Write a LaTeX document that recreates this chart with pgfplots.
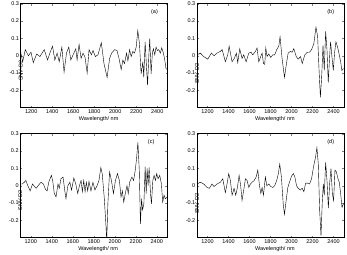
\documentclass[border=0pt]{standalone}
\usepackage{fontspec}
\setmainfont{Liberation Sans}
\usepackage{pgfplots}
\pgfplotsset{compat=1.18}

\newcommand{\sm}{\fontsize{5.5}{6.5}\selectfont}
\pgfplotsset{panel/.style={
  scale only axis, width=147pt, height=104pt, anchor=south west,
  xmin=1100, xmax=2500, ymin=-0.3, ymax=0.3,
  xtick={1200,1400,...,2400},
  ytick={-0.2,-0.1,0,0.1,0.2,0.3},
  yticklabels={-0.2,-0.1,0,0.1,0.2,0.3},
  /pgf/number format/1000 sep={},
  /pgf/number format/assume math mode=true,
  tick align=inside, major tick length=2pt,
  tick label style={font=\sm},
  xticklabel style={inner sep=1pt, yshift=-0.5pt},
  yticklabel style={inner sep=1.5pt},
  label style={font=\sm},
  xlabel={Wavelength/ nm}, ylabel={SNV-D2},
  xlabel style={at={(axis description cs:0.53,0)}, anchor=center, yshift=-11pt},
  axis line style={line width=0.5pt},
  cycle list={{black, line width=1.05pt, no marks, smooth, tension=0.3}},
}}

\begin{document}
\begin{tikzpicture}
\useasboundingbox (0,0) rectangle (347pt,-254pt);

% (a)
\begin{axis}[panel, at={(20.7pt,-107.7pt)},
  ylabel style={at={(axis description cs:0,0.46)}, anchor=center, xshift=-11pt}]
\addplot coordinates {
(1100,0.02)(1119,-0.035)(1144,0.035)(1173,0.0)(1198,0.02)(1220,-0.04)(1252,0.01)
(1283,-0.005)(1324,0.035)(1356,-0.025)(1378,0.015)(1403,0.055)(1425,-0.025)
(1447,0.015)(1467,-0.035)(1492,0.05)(1513,-0.095)(1536,0.015)(1558,0.05)
(1577,-0.025)(1599,0.005)(1625,0.04)(1637,-0.025)(1656,0.065)(1675,-0.015)
(1694,0.015)(1713,-0.01)(1733,-0.1)(1751,0.035)(1773,0.005)(1789,0.03)
(1811,-0.005)(1836,0.005)(1868,0.075)(1893,-0.045)(1923,-0.125)(1947,-0.015)
(1966,0.015)(1995,0.035)(2017,0.03)(2036,-0.015)(2057,-0.08)(2073,-0.025)
(2089,-0.045)(2108,0.015)(2121,-0.03)(2137,0.035)(2152,-0.005)(2168,0.025)
(2184,0.015)(2200,0.05)(2215,0.145)(2231,0.07)(2247,-0.105)(2263,-0.035)
(2272,-0.125)(2285,0.08)(2298,-0.065)(2308,-0.17)(2320,-0.005)(2329,0.1)
(2342,-0.105)(2354,0.015)(2364,0.04)(2377,0.005)(2389,0.05)(2402,0.03)
(2415,0.035)(2430,0.015)(2443,0.045)(2459,0.015)(2472,-0.025)(2484,-0.075)
(2500,-0.08)};
\node[font=\sm] at (rel axis cs:0.91,0.92) {(a)};
\end{axis}

% (b)
\begin{axis}[panel, at={(197pt,-107.7pt)},
  ylabel style={at={(axis description cs:0,0.46)}, anchor=center, xshift=-14pt}]
\addplot coordinates {
(1100,0.005)(1132,0.015)(1164,-0.005)(1202,-0.02)(1237,0.015)(1262,0.0)
(1291,0.015)(1323,0.025)(1339,0.035)(1355,0.0)(1370,-0.035)(1393,0.005)
(1406,0.055)(1434,-0.035)(1456,-0.015)(1475,0.015)(1488,-0.04)(1507,0.04)
(1529,-0.015)(1545,0.005)(1568,-0.035)(1593,0.015)(1615,0.02)(1631,0.005)
(1657,0.025)(1672,0.045)(1688,-0.035)(1707,-0.005)(1720,0.015)(1733,-0.045)
(1745,-0.05)(1755,0.045)(1767,-0.005)(1783,0.01)(1802,-0.01)(1821,0.005)
(1840,0.005)(1859,0.035)(1879,0.055)(1891,0.11)(1910,-0.015)(1933,-0.125)
(1952,-0.045)(1968,0.015)(1990,0.025)(2006,0.02)(2022,0.04)(2045,-0.005)
(2064,-0.02)(2086,-0.005)(2102,-0.045)(2127,0.005)(2150,0.02)(2172,0.02)
(2191,0.035)(2213,0.07)(2233,0.165)(2249,0.11)(2261,-0.065)(2275,-0.24)
(2287,-0.125)(2300,0.06)(2312,-0.085)(2325,0.14)(2338,0.035)(2350,-0.155)
(2363,-0.005)(2372,0.08)(2385,-0.005)(2398,-0.085)(2410,0.015)(2423,0.08)
(2439,0.05)(2455,0.005)(2468,-0.035)(2480,-0.085)(2494,-0.075)(2500,-0.075)};
\node[font=\sm] at (rel axis cs:0.91,0.92) {(b)};
\end{axis}

% (c)
\begin{axis}[panel, at={(20.3pt,-237.7pt)},
  ylabel style={at={(axis description cs:0,0.46)}, anchor=center, xshift=-10.5pt}]
\addplot coordinates {
(1100,0.01)(1119,0.01)(1138,0.02)(1153,0.03)(1172,0.0)(1194,-0.03)(1216,0.01)
(1229,0.0)(1251,-0.015)(1276,0.005)(1298,0.02)(1320,0.01)(1339,-0.02)
(1355,-0.03)(1371,0.02)(1396,0.06)(1408,0.03)(1424,-0.045)(1440,-0.065)
(1459,0.01)(1471,-0.015)(1487,0.04)(1507,0.05)(1525,-0.035)(1535,-0.075)
(1553,0.0)(1572,0.02)(1588,-0.025)(1610,0.045)(1628,0.01)(1647,-0.045)
(1663,0.0)(1679,0.03)(1691,-0.035)(1704,0.03)(1717,-0.035)(1729,0.02)
(1742,-0.03)(1754,0.025)(1773,-0.03)(1792,0.02)(1811,-0.025)(1831,0.0)
(1849,0.03)(1867,0.105)(1880,0.07)(1899,-0.065)(1915,-0.22)(1923,-0.32)
(1934,-0.105)(1950,0.08)(1968,0.03)(1987,-0.045)(2006,0.03)(2025,0.07)
(2044,0.03)(2059,-0.065)(2072,-0.03)(2085,-0.095)(2100,-0.045)(2116,0.0)
(2128,-0.045)(2141,0.02)(2163,0.05)(2179,0.03)(2195,0.09)(2207,0.155)
(2220,0.25)(2233,0.09)(2244,-0.22)(2255,-0.075)(2264,-0.14)(2277,-0.105)
(2289,0.11)(2299,-0.045)(2308,0.1)(2317,0.0)(2327,0.105)(2340,-0.045)
(2349,-0.105)(2362,0.03)(2374,0.06)(2387,0.03)(2399,0.07)(2412,0.04)
(2428,0.06)(2444,0.01)(2456,-0.095)(2469,-0.055)(2481,-0.075)(2500,-0.065)};
\node[font=\sm] at (rel axis cs:0.89,0.92) {(c)};
\end{axis}

% (d)
\begin{axis}[panel, at={(197pt,-237.7pt)},
  ylabel style={at={(axis description cs:0,0.46)}, anchor=center, xshift=-14pt}]
\addplot coordinates {
(1100,0.01)(1132,0.02)(1164,0.01)(1196,-0.01)(1218,-0.015)(1243,0.01)
(1262,-0.005)(1291,0.01)(1323,0.02)(1345,0.04)(1361,-0.01)(1370,-0.04)
(1386,0.01)(1402,0.07)(1418,0.03)(1434,-0.055)(1453,-0.015)(1469,-0.055)
(1485,-0.01)(1501,0.06)(1516,0.0)(1529,-0.085)(1545,-0.025)(1561,0.04)
(1577,0.03)(1593,-0.01)(1609,0.01)(1625,0.02)(1644,0.03)(1663,0.05)
(1679,0.09)(1695,0.0)(1708,-0.045)(1720,-0.01)(1733,-0.055)(1751,0.05)
(1765,0.0)(1784,0.01)(1803,-0.005)(1822,-0.01)(1840,0.0)(1859,0.03)
(1875,0.07)(1888,0.125)(1904,0.05)(1921,-0.105)(1933,-0.165)(1949,-0.085)
(1965,-0.01)(1981,0.02)(2000,0.055)(2018,0.07)(2032,0.05)(2048,0.0)
(2064,-0.015)(2083,-0.025)(2102,-0.015)(2118,-0.035)(2134,0.015)(2153,0.015)
(2172,0.01)(2191,0.04)(2210,0.11)(2229,0.165)(2242,0.22)(2255,0.125)
(2268,-0.14)(2281,-0.29)(2293,-0.095)(2303,0.01)(2312,-0.055)(2325,0.135)
(2338,0.03)(2351,-0.13)(2363,0.01)(2376,0.1)(2389,-0.045)(2401,-0.085)
(2414,0.09)(2427,0.08)(2443,0.04)(2455,0.02)(2468,-0.045)(2481,-0.125)
(2494,-0.105)(2500,-0.105)};
\node[font=\sm] at (rel axis cs:0.91,0.92) {(d)};
\end{axis}
\end{tikzpicture}
\end{document}
